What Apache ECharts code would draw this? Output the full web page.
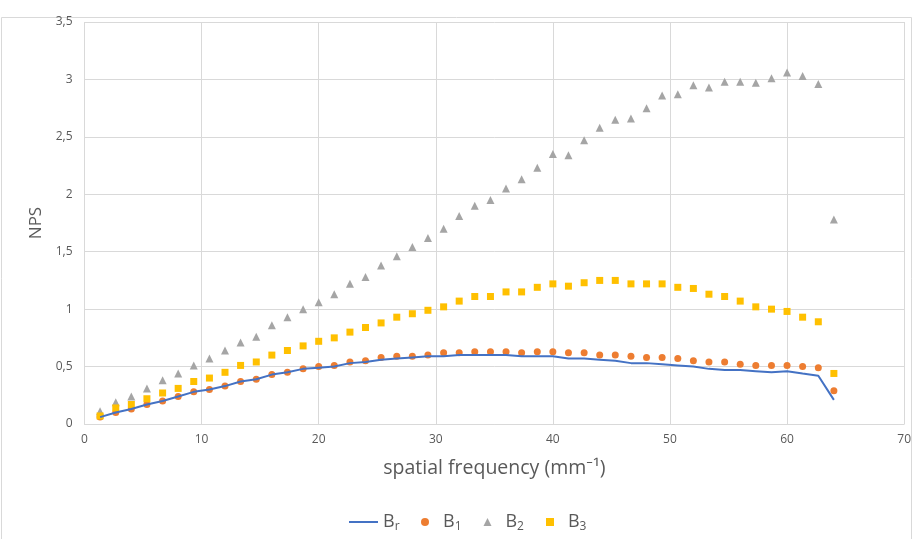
<!DOCTYPE html>
<html>
<head>
<meta charset="utf-8">
<script src="https://cdn.jsdelivr.net/npm/echarts@6/dist/echarts.min.js"></script>
<style>html,body{margin:0;padding:0;background:#fff}#c{width:914px;height:539px}</style>
</head>
<body>
<div id="c"></div>
<script>
var freq = [1.33, 2.67, 4, 5.33, 6.67, 8, 9.33, 10.67, 12, 13.33, 14.67, 16, 17.33, 18.67, 20, 21.33, 22.67, 24, 25.33, 26.67, 28, 29.33, 30.67, 32, 33.33, 34.67, 36, 37.33, 38.67, 40, 41.33, 42.67, 44, 45.33, 46.67, 48, 49.33, 50.67, 52, 53.33, 54.67, 56, 57.33, 58.67, 60, 61.33, 62.67, 64];
var Br = [0.06, 0.10, 0.13, 0.17, 0.20, 0.24, 0.28, 0.30, 0.33, 0.37, 0.39, 0.43, 0.45, 0.48,
          0.49, 0.50, 0.53, 0.54, 0.56, 0.57, 0.58, 0.59, 0.59, 0.60, 0.60, 0.60, 0.60,
          0.59, 0.59, 0.59, 0.57, 0.57, 0.56, 0.55, 0.53, 0.53, 0.52, 0.51, 0.50, 0.48, 0.47,
          0.47, 0.46, 0.45, 0.46, 0.44, 0.42, 0.21];
var B1 = [0.06, 0.10, 0.13, 0.17, 0.20, 0.24, 0.28, 0.30, 0.33, 0.37, 0.39, 0.43, 0.45, 0.48,
          0.50, 0.51, 0.54, 0.55, 0.58, 0.59, 0.59, 0.60, 0.62, 0.62, 0.63, 0.63, 0.63,
          0.62, 0.63, 0.63, 0.62, 0.62, 0.60, 0.60, 0.59, 0.58, 0.58, 0.57, 0.55, 0.54, 0.54,
          0.52, 0.51, 0.51, 0.51, 0.50, 0.49, 0.29];
var B2 = [0.11, 0.19, 0.24, 0.31, 0.38, 0.44, 0.51, 0.57, 0.64, 0.71, 0.76, 0.86, 0.93, 1.00,
          1.06, 1.13, 1.22, 1.28, 1.38, 1.46, 1.54, 1.62, 1.70, 1.81, 1.90, 1.95, 2.05,
          2.13, 2.23, 2.35, 2.34, 2.47, 2.58, 2.65, 2.66, 2.75, 2.86, 2.87, 2.95, 2.93, 2.98,
          2.98, 2.97, 3.01, 3.06, 3.03, 2.96, 1.78];
var B3 = [0.07, 0.14, 0.17, 0.22, 0.27, 0.31, 0.37, 0.40, 0.45, 0.51, 0.54, 0.60, 0.64, 0.68,
          0.72, 0.75, 0.80, 0.84, 0.88, 0.93, 0.96, 0.99, 1.02, 1.07, 1.11, 1.11, 1.15,
          1.15, 1.19, 1.22, 1.20, 1.23, 1.25, 1.25, 1.22, 1.22, 1.22, 1.19, 1.18, 1.13, 1.11,
          1.07, 1.02, 1.00, 0.98, 0.93, 0.89, 0.44];
var seriesNames = ['Br', 'B1', 'B2', 'B3'];
var xTitle = 'spatial frequency (mm\u207B\u00B9)';
var yTitle = 'NPS';

function pairs(ys) { return ys.map(function (v, i) { return [freq[i], v]; }); }

var FONT = '"Open Sans", "Noto Sans", sans-serif';
var legendText = {
  color: '#595959', fontSize: 18,
  rich: {
    b: { fontSize: 18, color: '#595959', fontFamily: FONT, padding: [0, 0, 0, 0] },
    p: { fontSize: 18, color: '#595959', fontFamily: FONT, padding: [0, 0, 0, 9] },
    s: { fontSize: 12, color: '#595959', fontFamily: FONT, padding: [10, 0, 0, 0] }
  }
};
var chart = echarts.init(document.getElementById('c'), null, { renderer: 'canvas' });
chart.setOption({
  backgroundColor: '#ffffff',
  animation: false,
  textStyle: { fontFamily: FONT },
  graphic: [{
    type: 'rect', z: -1, silent: true,
    shape: { x: 1.5, y: 17.5, width: 910, height: 530 },
    style: { fill: 'none', stroke: '#d9d9d9', lineWidth: 1 }
  }],
  grid: { left: 84.5, right: 9, top: 22, bottom: 115, containLabel: false },
  xAxis: {
    type: 'value', min: 0, max: 70, interval: 10,
    name: xTitle, nameLocation: 'middle', nameGap: 34,
    nameTextStyle: { fontSize: 19.5, color: '#595959', fontFamily: FONT },
    axisLine: { show: true, lineStyle: { color: '#d9d9d9', width: 1 } },
    axisTick: { show: false },
    axisLabel: { color: '#595959', fontSize: 12, margin: 10, fontFamily: FONT },
    splitLine: { show: true, lineStyle: { color: '#d9d9d9', width: 1 } }
  },
  yAxis: {
    type: 'value', min: 0, max: 3.5, interval: 0.5,
    name: yTitle, nameLocation: 'middle', nameGap: 38, nameRotate: 90,
    nameTextStyle: { fontSize: 17, color: '#595959', fontFamily: FONT },
    axisLine: { show: false },
    axisTick: { show: false },
    axisLabel: { color: '#595959', fontSize: 12, margin: 12, fontFamily: FONT,
      formatter: function (v) { return String(v).replace('.', ','); } },
    splitLine: { show: true, lineStyle: { color: '#d9d9d9', width: 1 } }
  },
  legend: [{
    top: 508, left: 344, itemGap: 0,
    itemWidth: 29, itemHeight: 2, icon: 'rect',
    data: [seriesNames[0]],
    formatter: function (n) { return '{b|B}{s|' + n.slice(1) + '}'; },
    textStyle: legendText
  }, {
    top: 508, left: 416, itemGap: 22,
    itemWidth: 8, itemHeight: 8,
    data: [
      { name: seriesNames[1], icon: 'circle' },
      { name: seriesNames[2], icon: 'triangle' },
      { name: seriesNames[3], icon: 'rect' }
    ],
    formatter: function (n) { return '{p|B}{s|' + n.slice(1) + '}'; },
    textStyle: legendText
  }],
  series: [
    { name: seriesNames[0], type: 'line', data: pairs(Br), symbol: 'none', showSymbol: false,
      lineStyle: { color: '#4472C4', width: 2 }, itemStyle: { color: '#4472C4' } },
    { name: seriesNames[1], type: 'scatter', data: pairs(B1), symbol: 'circle', symbolSize: 7,
      itemStyle: { color: '#ED7D31', opacity: 1 } },
    { name: seriesNames[2], type: 'scatter', data: pairs(B2), symbol: 'triangle', symbolSize: 8,
      itemStyle: { color: '#A5A5A5', opacity: 1 } },
    { name: seriesNames[3], type: 'scatter', data: pairs(B3), symbol: 'rect', symbolSize: 7,
      itemStyle: { color: '#FFC000', opacity: 1 } }
  ]
});
</script>
</body>
</html>
